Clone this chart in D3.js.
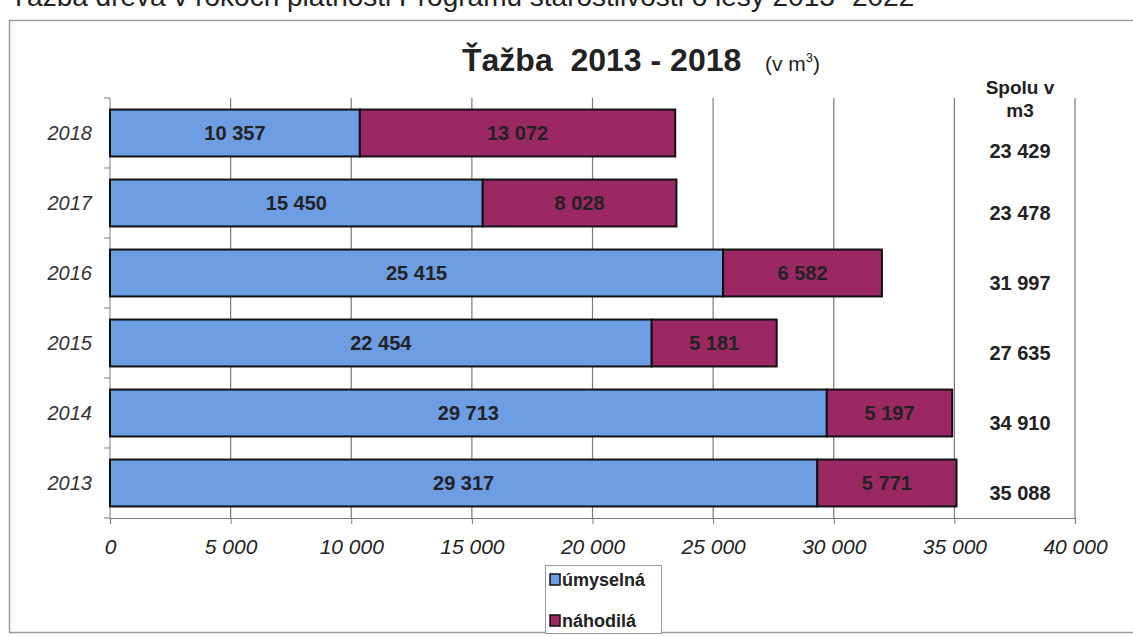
<!DOCTYPE html>
<html><head><meta charset="utf-8">
<script src="https://cdn.jsdelivr.net/npm/d3@7"></script>
<style>body{margin:0;background:#fff}svg{display:block}</style>
</head><body>
<svg id="c" width="1133" height="637"></svg>
<script>
const years = ["2018","2017","2016","2015","2014","2013"];
const umyselna = [10357, 15450, 25415, 22454, 29713, 29317];
const nahodila = [13072, 8028, 6582, 5181, 5197, 5771];
const totals = [23429, 23478, 31997, 27635, 34910, 35088];
const xTicks = [0,5000,10000,15000,20000,25000,30000,35000,40000];
const seriesNames = ["úmyselná","náhodilá"];
const colors = ["#6d9de2","#9b2862"];

const svg = d3.select("#c");
const fmt = d3.formatLocale({decimal:",", thousands:" ", grouping:[3], currency:["",""]}).format(",d");
const FONT = "Liberation Sans, Arial, sans-serif";

// outer frame
svg.append("rect").attr("x",9.5).attr("y",20.5).attr("width",1140).attr("height",612)
  .attr("fill","none").attr("stroke","#9a9a9a").attr("stroke-width",1.5);

// page heading (cut off at top as in the scan)
svg.append("text").attr("x",10).attr("y",6).attr("font-family",FONT).attr("font-size",28)
  .attr("fill","#222").text("Ťažba dreva v rokoch platnosti Programu starostlivosti o lesy 2013 -2022");

const x = d3.scaleLinear().domain([0,40000]).range([110,1075]);
const y = d3.scaleBand().domain(years).range([98,518]).paddingInner(0.33).paddingOuter(0.165);

// gridlines
svg.append("g").selectAll("line").data(xTicks.slice(1)).join("line")
  .attr("x1",d=>x(d)).attr("x2",d=>x(d)).attr("y1",98).attr("y2",518)
  .attr("stroke","#7a7a7a").attr("stroke-width",1.2);

// x axis
const xa = svg.append("g").attr("transform","translate(0,518)")
  .call(d3.axisBottom(x).tickValues(xTicks).tickSize(6).tickFormat(fmt).tickPadding(15));
xa.select(".domain").attr("stroke","#7a7a7a").attr("stroke-width",1.2);
xa.selectAll(".tick line").attr("stroke","#7a7a7a");
xa.selectAll("text").attr("font-family",FONT).attr("font-style","italic")
  .attr("font-size",21).attr("fill","#222");

// y axis ticks (band boundaries)
const bounds = d3.range(years.length+1).map(i=>98+i*y.step());
svg.append("g").selectAll("line").data(bounds).join("line")
  .attr("x1",104).attr("x2",110).attr("y1",d=>d).attr("y2",d=>d).attr("stroke","#7a7a7a");
svg.append("line").attr("x1",110).attr("x2",110).attr("y1",98).attr("y2",518).attr("stroke","#7a7a7a");

svg.append("g").selectAll("text").data(years).join("text")
  .attr("x",92).attr("y",d=>y(d)+y.bandwidth()/2).attr("dy","0.35em").attr("text-anchor","end")
  .attr("font-family",FONT).attr("font-style","italic").attr("font-size",20).attr("fill","#333")
  .text(d=>d);

// bars
const rows = years.map((yr,i)=>({yr, a:umyselna[i], b:nahodila[i], t:totals[i]}));
const g = svg.append("g");
rows.forEach((r,i)=>{
  const segs = [{v0:0,v1:r.a,c:colors[0],v:r.a},{v0:r.a,v1:r.a+r.b,c:colors[1],v:r.b}];
  segs.forEach(s=>{
    g.append("rect").attr("x",x(s.v0)).attr("y",y(r.yr)).attr("width",x(s.v1)-x(s.v0)).attr("height",y.bandwidth())
      .attr("fill",s.c).attr("stroke","#111").attr("stroke-width",2);
    g.append("text").attr("x",(x(s.v0)+x(s.v1))/2).attr("y",y(r.yr)+y.bandwidth()/2).attr("dy","0.35em")
      .attr("text-anchor","middle").attr("font-family",FONT).attr("font-weight","bold")
      .attr("font-size",20).attr("fill","#222").text(fmt(s.v));
  });
  g.append("text").attr("x",1020).attr("y",y(r.yr)+y.bandwidth()/2+(i===0?18:10)).attr("dy","0.35em")
    .attr("text-anchor","middle").attr("font-family",FONT).attr("font-weight","bold")
    .attr("font-size",20).attr("fill","#222").text(fmt(r.t));
});

// title
const t = svg.append("text").attr("x",462).attr("y",71).attr("fill","#222");
t.append("tspan").attr("font-family",FONT).attr("font-weight","bold")
  .attr("font-size",32).text("Ťažba\u00a0 2013 - 2018");
t.append("tspan").attr("font-family",FONT).attr("font-size",21)
  .attr("x",765).text("(v m");
t.append("tspan").attr("font-family",FONT).attr("font-size",13)
  .attr("dy",-9).text("3");
t.append("tspan").attr("font-family",FONT).attr("font-size",21)
  .attr("dy",9).text(")");

// Spolu header
svg.append("text").attr("x",1020).attr("y",94).attr("text-anchor","middle").attr("font-family",FONT)
  .attr("font-weight","bold").attr("font-size",19).attr("fill","#222").text("Spolu v");
svg.append("text").attr("x",1020).attr("y",117).attr("text-anchor","middle").attr("font-family",FONT)
  .attr("font-weight","bold").attr("font-size",19).attr("fill","#222").text("m3");

// legend
const lg = svg.append("g");
lg.append("rect").attr("x",545.5).attr("y",565.5).attr("width",116).attr("height",68)
  .attr("fill","#fff").attr("stroke","#999");
seriesNames.forEach((n,i)=>{
  const yy = 580 + i*41;
  lg.append("rect").attr("x",550).attr("y",yy-6).attr("width",10).attr("height",11)
    .attr("fill",colors[i]).attr("stroke","#111").attr("stroke-width",1.5);
  lg.append("text").attr("x",562).attr("y",yy).attr("dy","0.35em").attr("font-family",FONT)
    .attr("font-weight","bold").attr("font-size",18).attr("fill","#222").text(n);
});
</script>
</body></html>
